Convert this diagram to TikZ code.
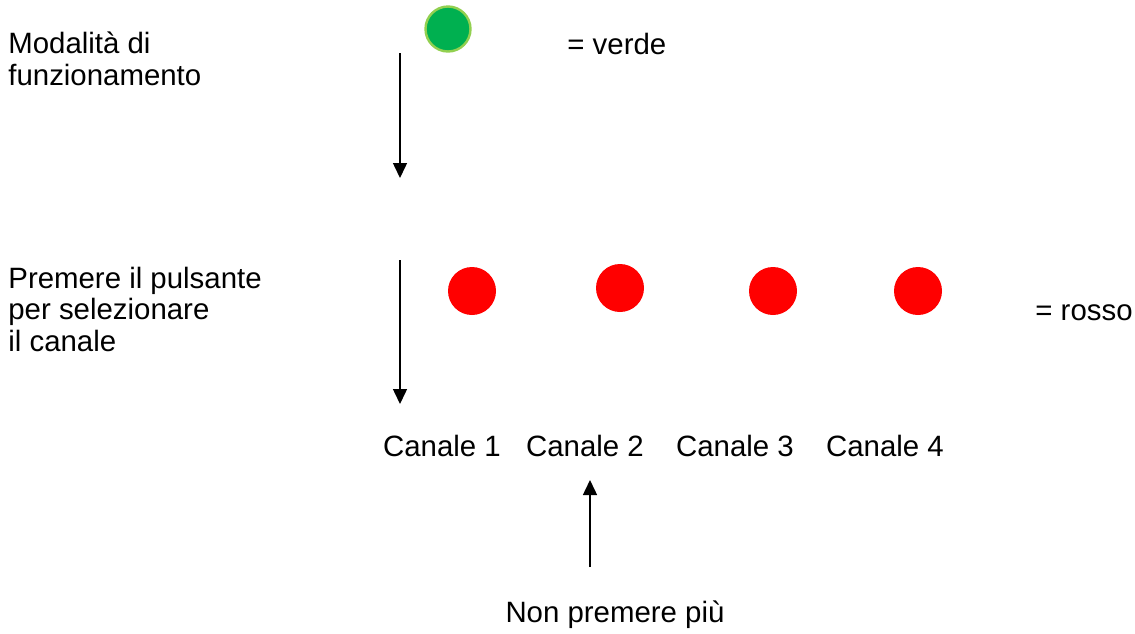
\documentclass[tikz,border=0pt]{standalone}
\usepackage{fontspec}
\setmainfont{Liberation Sans}
\usetikzlibrary{arrows.meta}
\definecolor{ledgreen}{HTML}{00B050}
\definecolor{ledrim}{HTML}{92D050}
\definecolor{ledred}{HTML}{FF0000}
\tikzset{
  lbl/.style={inner sep=0pt,font=\fontsize{14.7pt}{15.6pt}\selectfont,align=left},
  led/.style={circle,inner sep=0pt,minimum size=24pt},
  flow/.style={line width=0.75pt,-{Triangle[width=7pt,length=7.5pt]}}
}
\begin{document}
\begin{tikzpicture}[x=0.5pt,y=-0.5pt]
\useasboundingbox (0,0) rectangle (1135,633);
\fill[white] (0,0) rectangle (1135,633);
\begin{scope} %MODE
\node[lbl,anchor=base west] (mode) at (8,85) {Modalità di\\funzionamento};
\node[led,fill=ledgreen,draw=ledrim,line width=1.2pt,minimum size=22.5pt] (green) at (448,29) {};
\node[lbl,anchor=base west] (verde) at (567,54) {= verde};
\coordinate (modeA) at (400,53);
\coordinate (modeB) at (400,178);
\draw[flow] (modeA) -- (modeB);
\end{scope}
\begin{scope} %CHANNEL
\node[lbl,anchor=base west] (press) at (8,351) {Premere il pulsante\\per selezionare\\il canale};
\node[led,fill=ledred] (red1) at (472,291) {};
\node[led,fill=ledred] (red2) at (620,288) {};
\node[led,fill=ledred] (red3) at (773,291) {};
\node[led,fill=ledred] (red4) at (918,291) {};
\node[lbl,anchor=base west] (rosso) at (1035,320) {= rosso};
\coordinate (pressA) at (400,260);
\coordinate (pressB) at (400,404);
\draw[flow] (pressA) -- (pressB);
\end{scope}
\begin{scope} %LABELS
\node[lbl,anchor=base] (ch1) at (442,456) {Canale 1};
\node[lbl,anchor=base] (ch2) at (585,456) {Canale 2};
\node[lbl,anchor=base] (ch3) at (735,456) {Canale 3};
\node[lbl,anchor=base] (ch4) at (885,456) {Canale 4};
\node[lbl,anchor=base] (stop) at (615,622) {Non premere più};
\coordinate (stopA) at (590,567);
\coordinate (stopB) at (590,480);
\draw[flow] (stopA) -- (stopB);
\end{scope}
\end{tikzpicture}
\end{document}
